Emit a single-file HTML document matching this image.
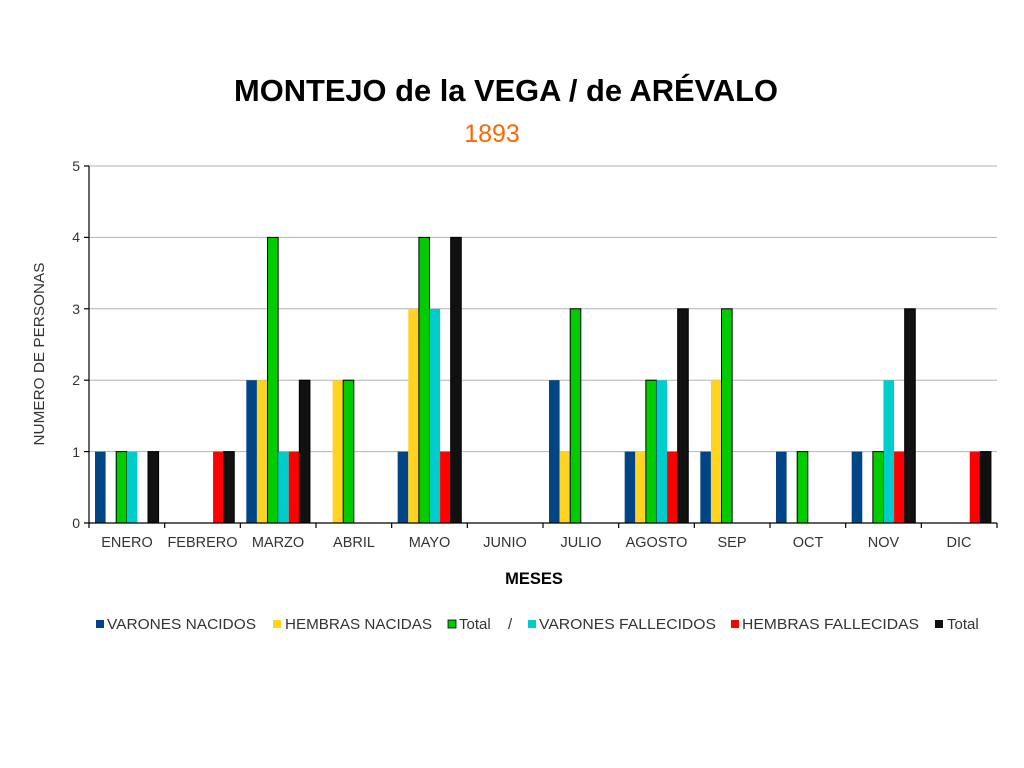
<!DOCTYPE html>
<html><head><meta charset="utf-8"><style>body{margin:0;background:#fff}svg{display:block}</style></head>
<body>
<svg width="1024" height="768" xmlns="http://www.w3.org/2000/svg" font-family="Liberation Sans, sans-serif">
<rect width="1024" height="768" fill="#fff"/>
<text x="506" y="101" text-anchor="middle" font-size="30.5" font-weight="bold" fill="#000" textLength="544" lengthAdjust="spacingAndGlyphs">MONTEJO de la VEGA / de ARÉVALO</text>
<text x="492" y="142" text-anchor="middle" font-size="25" fill="#ff6600">1893</text>
<g stroke="#b3b3b3" stroke-width="1">
<line x1="89" y1="166" x2="997" y2="166"/><line x1="89" y1="237.4" x2="997" y2="237.4"/><line x1="89" y1="308.8" x2="997" y2="308.8"/><line x1="89" y1="380.2" x2="997" y2="380.2"/><line x1="89" y1="451.6" x2="997" y2="451.6"/>
</g>
<g font-size="14" fill="#333" text-anchor="end">
<text x="80" y="171">5</text><text x="80" y="242">4</text><text x="80" y="314">3</text><text x="80" y="385">2</text><text x="80" y="457">1</text><text x="80" y="528">0</text>
</g>
<text transform="translate(44,354) rotate(-90)" text-anchor="middle" font-size="15" fill="#333" textLength="183" lengthAdjust="spacingAndGlyphs">NUMERO DE PERSONAS</text>
<g id="bars">
<g transform="translate(95,0)">
<rect x="0" y="451.6" width="10.6" height="71.4" fill="#004586"/>
<rect x="21.2" y="451.6" width="10.6" height="71.4" fill="#00cc00" stroke="#000"/>
<rect x="31.8" y="451.6" width="10.6" height="71.4" fill="#00cccc"/>
<rect x="53" y="451.6" width="10.6" height="71.4" fill="#111" stroke="#000"/>
</g>
<g transform="translate(170.67,0)">
<rect x="42.4" y="451.6" width="10.6" height="71.4" fill="#ff0000"/>
<rect x="53" y="451.6" width="10.6" height="71.4" fill="#111" stroke="#000"/>
</g>
<g transform="translate(246.33,0)">
<rect x="0" y="380.2" width="10.6" height="142.8" fill="#004586"/>
<rect x="10.6" y="380.2" width="10.6" height="142.8" fill="#ffd320"/>
<rect x="21.2" y="237.4" width="10.6" height="285.6" fill="#00cc00" stroke="#000"/>
<rect x="31.8" y="451.6" width="10.6" height="71.4" fill="#00cccc"/>
<rect x="42.4" y="451.6" width="10.6" height="71.4" fill="#ff0000"/>
<rect x="53" y="380.2" width="10.6" height="142.8" fill="#111" stroke="#000"/>
</g>
<g transform="translate(322,0)">
<rect x="10.6" y="380.2" width="10.6" height="142.8" fill="#ffd320"/>
<rect x="21.2" y="380.2" width="10.6" height="142.8" fill="#00cc00" stroke="#000"/>
</g>
<g transform="translate(397.67,0)">
<rect x="0" y="451.6" width="10.6" height="71.4" fill="#004586"/>
<rect x="10.6" y="308.8" width="10.6" height="214.2" fill="#ffd320"/>
<rect x="21.2" y="237.4" width="10.6" height="285.6" fill="#00cc00" stroke="#000"/>
<rect x="31.8" y="308.8" width="10.6" height="214.2" fill="#00cccc"/>
<rect x="42.4" y="451.6" width="10.6" height="71.4" fill="#ff0000"/>
<rect x="53" y="237.4" width="10.6" height="285.6" fill="#111" stroke="#000"/>
</g>
<g transform="translate(549,0)">
<rect x="0" y="380.2" width="10.6" height="142.8" fill="#004586"/>
<rect x="10.6" y="451.6" width="10.6" height="71.4" fill="#ffd320"/>
<rect x="21.2" y="308.8" width="10.6" height="214.2" fill="#00cc00" stroke="#000"/>
</g>
<g transform="translate(624.67,0)">
<rect x="0" y="451.6" width="10.6" height="71.4" fill="#004586"/>
<rect x="10.6" y="451.6" width="10.6" height="71.4" fill="#ffd320"/>
<rect x="21.2" y="380.2" width="10.6" height="142.8" fill="#00cc00" stroke="#000"/>
<rect x="31.8" y="380.2" width="10.6" height="142.8" fill="#00cccc"/>
<rect x="42.4" y="451.6" width="10.6" height="71.4" fill="#ff0000"/>
<rect x="53" y="308.8" width="10.6" height="214.2" fill="#111" stroke="#000"/>
</g>
<g transform="translate(700.33,0)">
<rect x="0" y="451.6" width="10.6" height="71.4" fill="#004586"/>
<rect x="10.6" y="380.2" width="10.6" height="142.8" fill="#ffd320"/>
<rect x="21.2" y="308.8" width="10.6" height="214.2" fill="#00cc00" stroke="#000"/>
</g>
<g transform="translate(776,0)">
<rect x="0" y="451.6" width="10.6" height="71.4" fill="#004586"/>
<rect x="21.2" y="451.6" width="10.6" height="71.4" fill="#00cc00" stroke="#000"/>
</g>
<g transform="translate(851.67,0)">
<rect x="0" y="451.6" width="10.6" height="71.4" fill="#004586"/>
<rect x="21.2" y="451.6" width="10.6" height="71.4" fill="#00cc00" stroke="#000"/>
<rect x="31.8" y="380.2" width="10.6" height="142.8" fill="#00cccc"/>
<rect x="42.4" y="451.6" width="10.6" height="71.4" fill="#ff0000"/>
<rect x="53" y="308.8" width="10.6" height="214.2" fill="#111" stroke="#000"/>
</g>
<g transform="translate(927.33,0)">
<rect x="42.4" y="451.6" width="10.6" height="71.4" fill="#ff0000"/>
<rect x="53" y="451.6" width="10.6" height="71.4" fill="#111" stroke="#000"/>
</g>
</g>
<g stroke="#000" stroke-width="1.2">
<line x1="89" y1="166" x2="89" y2="523"/>
<line x1="84" y1="523" x2="997" y2="523"/>
<line x1="84" y1="166" x2="89" y2="166"/><line x1="84" y1="237.4" x2="89" y2="237.4"/><line x1="84" y1="308.8" x2="89" y2="308.8"/><line x1="84" y1="380.2" x2="89" y2="380.2"/><line x1="84" y1="451.6" x2="89" y2="451.6"/>
<line x1="89" y1="523" x2="89" y2="528"/><line x1="164.67" y1="523" x2="164.67" y2="528"/><line x1="240.33" y1="523" x2="240.33" y2="528"/><line x1="316" y1="523" x2="316" y2="528"/><line x1="391.67" y1="523" x2="391.67" y2="528"/><line x1="467.33" y1="523" x2="467.33" y2="528"/><line x1="543" y1="523" x2="543" y2="528"/><line x1="618.67" y1="523" x2="618.67" y2="528"/><line x1="694.33" y1="523" x2="694.33" y2="528"/><line x1="770" y1="523" x2="770" y2="528"/><line x1="845.67" y1="523" x2="845.67" y2="528"/><line x1="921.33" y1="523" x2="921.33" y2="528"/><line x1="997" y1="523" x2="997" y2="528"/>
</g>
<g font-size="14.5" fill="#333" text-anchor="middle">
<text x="127" y="547">ENERO</text><text x="202.5" y="547">FEBRERO</text><text x="278" y="547">MARZO</text><text x="354" y="547">ABRIL</text><text x="429.5" y="547">MAYO</text><text x="505" y="547">JUNIO</text><text x="581" y="547">JULIO</text><text x="656.5" y="547">AGOSTO</text><text x="732" y="547">SEP</text><text x="808" y="547">OCT</text><text x="883.5" y="547">NOV</text><text x="959" y="547">DIC</text>
</g>
<text x="534" y="584" text-anchor="middle" font-size="16.5" font-weight="bold" fill="#000">MESES</text>
<g font-size="15" fill="#333">
<rect x="96" y="620" width="8" height="8" fill="#004586"/><text x="107" y="629" textLength="149" lengthAdjust="spacingAndGlyphs">VARONES NACIDOS</text>
<rect x="273" y="620" width="8" height="8" fill="#ffd320"/><text x="285" y="629" textLength="147" lengthAdjust="spacingAndGlyphs">HEMBRAS NACIDAS</text>
<rect x="448" y="620" width="8" height="8" fill="#00cc00" stroke="#000" stroke-width="0.8"/><text x="459" y="629">Total</text>
<text x="508" y="629">/</text>
<rect x="528" y="620" width="8" height="8" fill="#00cccc"/><text x="539" y="629" textLength="177" lengthAdjust="spacingAndGlyphs">VARONES FALLECIDOS</text>
<rect x="731" y="620" width="8" height="8" fill="#ff0000"/><text x="742" y="629" textLength="177" lengthAdjust="spacingAndGlyphs">HEMBRAS FALLECIDAS</text>
<rect x="935" y="620" width="8" height="8" fill="#111"/><text x="947" y="629">Total</text>
</g>
</svg>
</body></html>
